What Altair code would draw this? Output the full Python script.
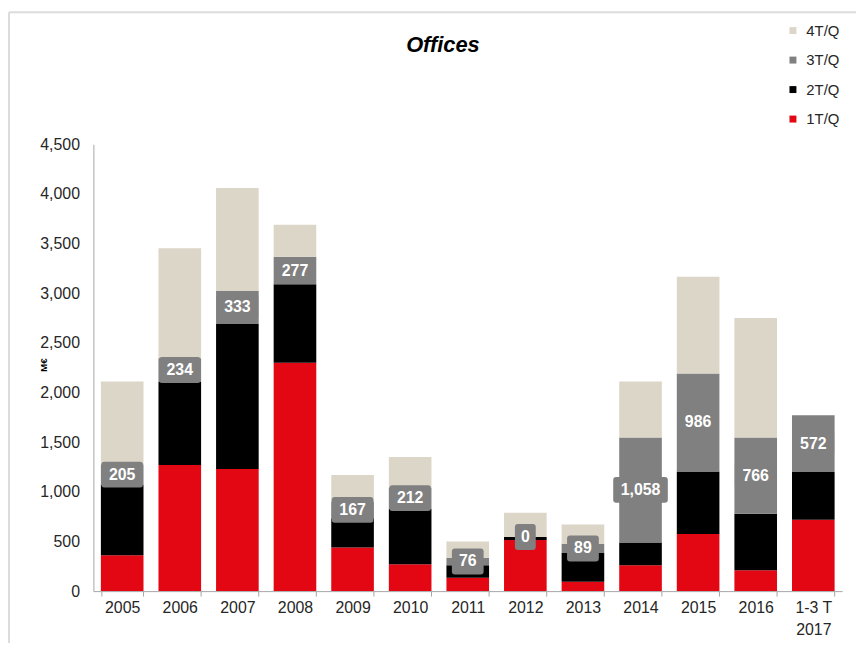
import altair as alt
import pandas as pd

years = ["2005", "2006", "2007", "2008", "2009", "2010", "2011", "2012",
         "2013", "2014", "2015", "2016", "1-3 T 2017"]
q1 = [360, 1270, 1230, 2300, 440, 270, 135, 515, 95, 260, 575, 210, 720]
q2 = [710, 840, 1460, 790, 295, 560, 125, 30, 290, 230, 630, 570, 480]
q3 = [205, 234, 333, 277, 167, 212, 76, 0, 89, 1058, 986, 766, 572]
q4 = [835, 1110, 1037, 323, 268, 308, 164, 245, 196, 562, 974, 1204, 0]

series = ["4T/Q", "3T/Q", "2T/Q", "1T/Q"]
colors = ["#DCD6C8", "#808080", "#000000", "#E30613"]
FONT = "Liberation Sans"

rows = []
for i, y in enumerate(years):
    for name, vals, order in [("1T/Q", q1, 1), ("2T/Q", q2, 2), ("3T/Q", q3, 3), ("4T/Q", q4, 4)]:
        rows.append({"year": y, "series": name, "value": vals[i], "ord": order})
df = pd.DataFrame(rows)

lab = pd.DataFrame({
    "year": years,
    "q3": q3,
    "mid": [a + b + c / 2 for a, b, c in zip(q1, q2, q3)],
    "nchar": [len(f"{v:,}") for v in q3],
})

xaxis = alt.Axis(labelAngle=0, labelFontSize=16, labelFont=FONT,
                 labelColor="#262626", tickBand="extent", tickSize=5,
                 tickColor="#A6A6A6", domainColor="#A6A6A6",
                 labelPadding=4, labelLineHeight=22,
                 labelExpr="datum.value == '1-3 T 2017' ? ['1-3 T', '2017'] : datum.label")
xscale = alt.Scale(paddingInner=0.26, paddingOuter=0.13)
yscale = alt.Scale(domain=[0, 4500], nice=False)
yaxis = alt.Axis(values=list(range(0, 4501, 500)), format=",.0f", grid=False,
                 ticks=False, labelPadding=14, labelFontSize=16, labelFont=FONT,
                 labelColor="#262626", domainColor="#A6A6A6",
                 titleFont=FONT, titleFontSize=10, titleFontWeight="bold",
                 titleColor="#000000", titleX=-45, titleY=222)

def X():
    return alt.X("year:N", sort=years, title=None, scale=xscale, axis=xaxis)

bars = alt.Chart(df).mark_bar().encode(
    x=X(),
    y=alt.Y("value:Q", stack="zero", title="M€", scale=yscale, axis=yaxis),
    color=alt.Color("series:N", scale=alt.Scale(domain=series, range=colors),
                    legend=alt.Legend(title=None, orient="none", legendX=697, legendY=-122,
                                      symbolType="square", symbolSize=49, symbolStrokeWidth=0,
                                      labelFontSize=15, labelFont=FONT, labelColor="#262626",
                                      labelOffset=6, rowPadding=13.7, padding=0)),
    order=alt.Order("ord:Q"),
)

def rrect(w, h=26, r=3):
    s = 30.0
    x, y, rr = w / 2 / s, h / 2 / s, r / s
    return (f"M{-x + rr},{-y} L{x - rr},{-y} Q{x},{-y} {x},{-y + rr} "
            f"L{x},{y - rr} Q{x},{y} {x - rr},{y} L{-x + rr},{y} Q{-x},{y} {-x},{y - rr} "
            f"L{-x},{-y + rr} Q{-x},{-y} {-x + rr},{-y} Z")

boxes = alt.Chart(lab).mark_point(filled=True, opacity=1, size=3600, color="#808080").encode(
    x=X(),
    y=alt.Y("mid:Q", title="M€", scale=yscale, axis=yaxis),
    shape=alt.Shape("nchar:O", scale=alt.Scale(domain=[1, 2, 3, 5],
                                               range=[rrect(21), rrect(32), rrect(42), rrect(55)]),
                    legend=None),
)

texts = alt.Chart(lab).mark_text(color="white", fontWeight="bold", fontSize=16,
                                 font=FONT, baseline="middle").encode(
    x=X(),
    y=alt.Y("mid:Q", title="M€", scale=yscale, axis=yaxis),
    text=alt.Text("q3:Q", format=","),
)

title = alt.Chart(pd.DataFrame({"t": ["Offices"]})).mark_text(
    font=FONT, fontSize=22, fontWeight="bold", fontStyle="italic", color="#000000",
    baseline="middle", align="center").encode(
    text="t:N", x=alt.value(352), y=alt.value(-100))

frame_left = alt.Chart(pd.DataFrame({"a": [0]})).mark_rule(color="#DCDCDC", strokeWidth=2).encode(
    x=alt.value(-85), y=alt.value(-133), y2=alt.value(520))
frame_top = alt.Chart(pd.DataFrame({"a": [0]})).mark_rule(color="#DCDCDC", strokeWidth=2).encode(
    x=alt.value(-85), x2=alt.value(770), y=alt.value(-133))

chart = alt.layer(bars, boxes, texts, title, frame_left, frame_top).properties(
    width=754, height=450,
    autosize=alt.AutoSizeParams(type="none"),
    padding={"left": 86, "top": 135, "right": 14, "bottom": 50},
).configure_view(stroke=None)

chart.save("out.html", embed_options={"renderer": "svg", "actions": False})
